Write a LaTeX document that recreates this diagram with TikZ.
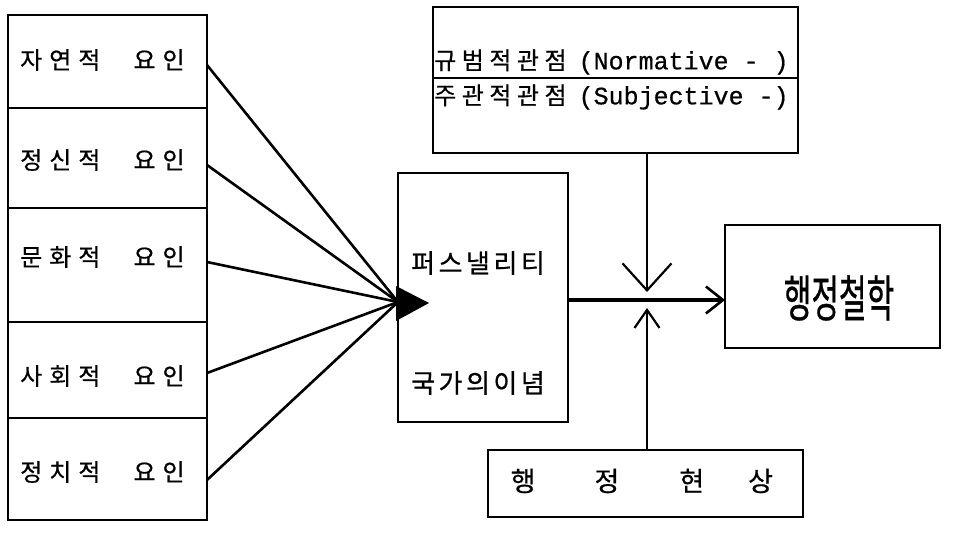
\documentclass[tikz,border=0pt]{standalone}
\usepackage{fontspec}
\setmainfont{Noto Sans CJK KR}[FakeBold=0.6]
\newfontfamily\monofam{Liberation Mono}[FakeBold=0.6]
\usetikzlibrary{arrows.meta}
\newcommand\kg{\hspace{7pt}}
\newcommand\kh{\hspace{5.5pt}}
\newcommand\km{\hspace{3.5pt}}
\begin{document}
\begin{tikzpicture}[x=1pt,y=-1pt,
  frame/.style={draw, line width=2.8pt, inner sep=0pt, outer sep=0pt},
  wire/.style={line width=2.6pt},
  heavy/.style={line width=4.5pt},
  txt/.style={inner sep=0pt, anchor=west},
  factor/.style={txt, font=\fontsize{24}{24}\selectfont},
  mid/.style={txt, font=\fontsize{26}{26}\selectfont},
  view/.style={txt, font=\fontsize{24}{24}\selectfont}]
\useasboundingbox (0,0) rectangle (957,536);

% left column of factors
\node[frame, minimum width=199pt, minimum height=93pt]  (c1) at (107.5,61.5) {};
\node[frame, minimum width=199pt, minimum height=100pt] (c2) at (107.5,158) {};
\node[frame, minimum width=199pt, minimum height=114pt] (c3) at (107.5,265) {};
\node[frame, minimum width=199pt, minimum height=96pt]  (c4) at (107.5,370) {};
\node[frame, minimum width=199pt, minimum height=102pt] (c5) at (107.5,469) {};
\node[factor] (t1) at (20,60)  {자\kg 연\kg 적\hspace{33pt}요\kg 인};
\node[factor] (t2) at (20,160) {정\kg 신\kg 적\hspace{33pt}요\kg 인};
\node[factor] (t3) at (20,257) {문\kg 화\kg 적\hspace{33pt}요\kg 인};
\node[factor] (t4) at (20,376) {사\kg 회\kg 적\hspace{33pt}요\kg 인};
\node[factor] (t5) at (20,472) {정\kg 치\kg 적\hspace{33pt}요\kg 인};

% central box
\node[frame, minimum width=170pt, minimum height=249pt] (m) at (483,297.5) {};
\node[mid] (m1) at (411,263) {퍼\km 스\km 낼\km 리\km 티};
\node[mid] (m2) at (411,383) {국\km 가\km 의\km 이\km 념};

% viewpoints box
\node[frame, minimum width=365pt, minimum height=146pt] (n) at (615.5,80) {};
\draw[wire] (n.west |- 0,78) -- (n.east |- 0,78);
\node[view] (n1) at (434,62) {규\kh 범\kh 적\kh 관\kh 점\hspace{12pt}{\monofam\fontsize{25}{24}\selectfont (Normative - )}};
\node[view] (n2) at (434,97) {주\kh 관\kh 적\kh 관\kh 점\hspace{12pt}{\monofam\fontsize{25}{24}\selectfont (Subjective -)}};

% result box
\node[frame, minimum width=215pt, minimum height=123pt] (r) at (832.5,286.5) {};
\node[inner sep=0pt] (rt) at (839,298) {\scalebox{0.6}[1]{\fontsize{50}{50}\selectfont 행정철학}};

% administrative phenomena box
\node[frame, minimum width=315pt, minimum height=67pt] (p) at (645.5,483.5) {};
\node[txt, font=\fontsize{27}{27}\selectfont] (pt) at (510.5,481) {행\hspace{59pt}정\hspace{60pt}현\hspace{44pt}상};

% converging lines
\coordinate (hub) at (398,302);
\draw[wire] (c1.east |- 0,65)  -- (hub);
\draw[wire] (c2.east |- 0,165) -- (hub);
\draw[wire] (c3.east |- 0,262) -- (hub);
\draw[wire] (c4.east |- 0,373) -- (hub);
\draw[wire] (c5.east |- 0,480) -- (hub);
\fill (396,286) -- (429,303) -- (396,321) -- cycle;

% main flow and influences
\draw[heavy, -{Straight Barb[length=17pt, width=27pt, line width=2.6pt]}] (m.east |- 0,300) -- (r.west |- 0,300);
\coordinate (dn) at (647,292);
\coordinate (up) at (647,308);
\draw[wire, -{Straight Barb[length=27pt, width=49pt, line width=2.2pt]}] (n.south -| dn) -- (dn);
\draw[wire, -{Straight Barb[length=18pt, width=25pt, line width=2.2pt]}] (p.north -| up) -- (up);
\end{tikzpicture}
\end{document}
